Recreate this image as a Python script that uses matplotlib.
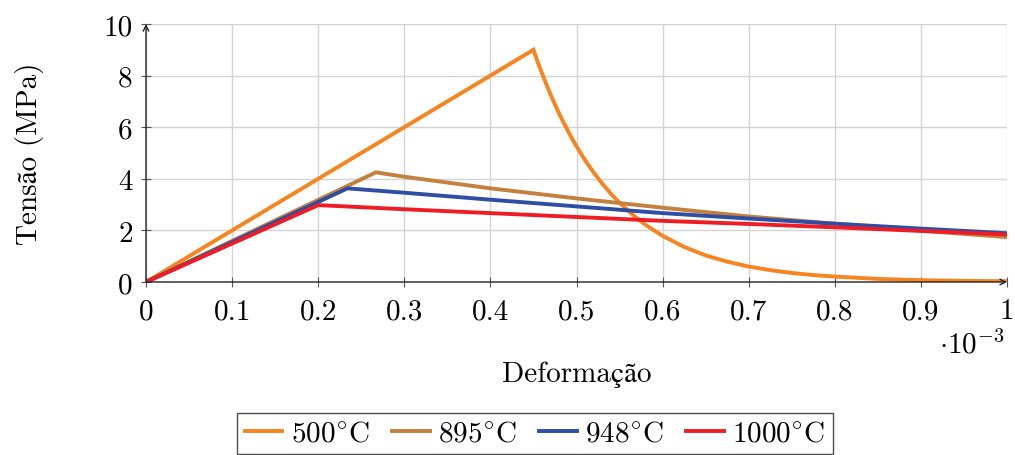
import matplotlib
matplotlib.use("Agg")
import matplotlib.pyplot as plt

plt.rcParams['font.family'] = ['cmr10', 'STIXGeneral']
plt.rcParams['mathtext.fontset'] = 'cm'
plt.rcParams['axes.unicode_minus'] = False

# Data (strain in units of 1e-3, stress in MPa)
x_500 = [0, 0.45, 0.455, 0.46, 0.465, 0.47, 0.475, 0.48, 0.485, 0.49, 0.495, 0.50,
         0.51, 0.52, 0.53, 0.54, 0.55, 0.56, 0.57, 0.58, 0.59, 0.60,
         0.625, 0.65, 0.675, 0.70, 0.725, 0.75, 0.775, 0.80, 0.85, 0.90, 0.95, 1.0]
y_500 = [0, 9.0, 8.52, 8.08, 7.66, 7.26, 6.88, 6.52, 6.18, 5.86, 5.55, 5.26,
         4.72, 4.24, 3.81, 3.42, 3.07, 2.76, 2.48, 2.22, 2.0, 1.79,
         1.36, 1.03, 0.79, 0.6, 0.46, 0.35, 0.27, 0.21, 0.12, 0.07, 0.045, 0.03]
x_895 = [0, 0.267, 0.3, 0.4, 0.5, 0.6, 0.7, 0.8, 0.9, 1.0]
y_895 = [0, 4.25, 4.08, 3.63, 3.24, 2.88, 2.54, 2.26, 1.99, 1.74]
x_948 = [0, 0.234, 0.3, 0.4, 0.5, 0.6, 0.7, 0.8, 0.9, 1.0]
y_948 = [0, 3.63, 3.46, 3.19, 2.93, 2.67, 2.46, 2.26, 2.07, 1.89]
x_1000 = [0, 0.2, 0.3, 0.4, 0.5, 0.6, 0.7, 0.8, 0.9, 1.0]
y_1000 = [0, 2.98, 2.82, 2.67, 2.52, 2.37, 2.25, 2.12, 1.98, 1.84]

labels = [r"$500^{\circ}\mathrm{C}$", r"$895^{\circ}\mathrm{C}$",
          r"$948^{\circ}\mathrm{C}$", r"$1000^{\circ}\mathrm{C}$"]
colors = ['#F7841F', '#C4813D', '#2E4EA3', '#EE1D25']

xticks = [0, 0.1, 0.2, 0.3, 0.4, 0.5, 0.6, 0.7, 0.8, 0.9, 1.0]
xticklabels = ['0', '0.1', '0.2', '0.3', '0.4', '0.5', '0.6', '0.7', '0.8', '0.9', '1']
yticks = [0, 2, 4, 6, 8, 10]
yticklabels = ['0', '2', '4', '6', '8', '10']

W, H = 1015, 456
fig = plt.figure(figsize=(W / 100, H / 100), dpi=100)
ax = fig.add_axes([146 / W, 1 - 283 / H, (1007 - 146) / W, (283 - 25) / H])

series = [(x_500, y_500), (x_895, y_895), (x_948, y_948), (x_1000, y_1000)]
for (xs, ys), c, lab in zip(series, colors, labels):
    ax.plot(xs, ys, color=c, lw=2.8, label=lab, solid_joinstyle='miter', zorder=3)

ax.set_xlim(0, 1)
ax.set_ylim(0, 10)
ax.set_xticks(xticks)
ax.set_xticklabels(xticklabels)
ax.set_yticks(yticks)
ax.set_yticklabels(yticklabels)
ax.grid(True, color='#d4d4d4', lw=1.0, zorder=0)
ax.set_axisbelow(True)
for s in ax.spines.values():
    s.set_visible(False)
ax.tick_params(axis='both', direction='inout', length=7, width=0.8, color='#555555',
               labelsize=21)
ax.tick_params(axis='x', pad=8)
ax.tick_params(axis='y', pad=6)

# axis lines with arrows
ax.annotate('', xy=(1.0, 0), xytext=(0, 0), xycoords='axes fraction',
            arrowprops=dict(arrowstyle='->', color='#222222', lw=1.0, shrinkA=0, shrinkB=0),
            zorder=5, annotation_clip=False)
ax.annotate('', xy=(0, 1.0), xytext=(0, 0), xycoords='axes fraction',
            arrowprops=dict(arrowstyle='->', color='#222222', lw=1.0, shrinkA=0, shrinkB=0),
            zorder=5, annotation_clip=False)

fig.text(1005 / W, 1 - 345 / H, r"$\cdot 10^{-3}$", fontsize=21, ha='right', va='center')
fig.text(577 / W, 1 - 375 / H, "Deformação", fontsize=21, ha='center', va='center')
fig.text(30 / W, 1 - 154 / H, "Tensão (MPa)", fontsize=21, ha='center', va='center',
         rotation=90)

leg = fig.legend(loc='upper center', bbox_to_anchor=(535 / W, 1 - 414 / H), ncol=4,
                 frameon=True, fancybox=False, edgecolor='#222222', fontsize=21,
                 handlelength=1.3, handletextpad=0.3, columnspacing=0.75,
                 borderpad=0.25, borderaxespad=0)
leg.get_frame().set_linewidth(1.0)

fig.savefig('out.png', dpi=100)
